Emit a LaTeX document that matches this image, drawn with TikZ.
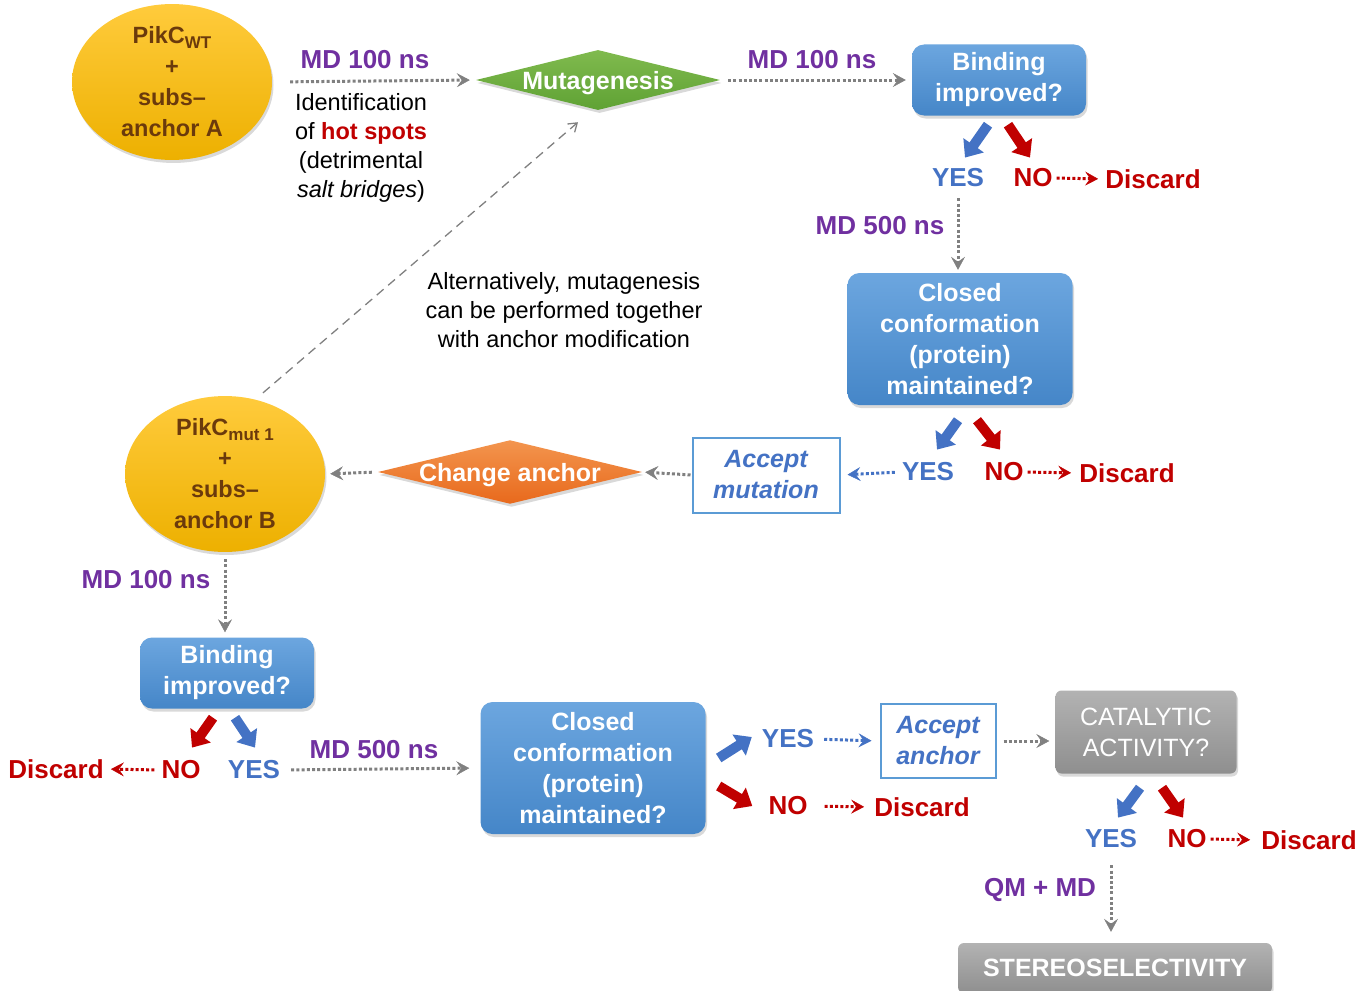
\documentclass[tikz,border=0pt]{standalone}
\usepackage{fontspec}
\setmainfont{Liberation Sans}
\usetikzlibrary{shapes.geometric,arrows.meta,shadows}

\definecolor{mdpurple}{HTML}{7030A0}
\definecolor{yesblue}{HTML}{4472C4}
\definecolor{nored}{HTML}{C00000}
\definecolor{anchorbrown}{HTML}{6B3A0C}
\definecolor{boxblue}{HTML}{5B9BD5}
\definecolor{boxtop}{HTML}{6CA6DF}
\definecolor{boxbottom}{HTML}{4586C8}
\definecolor{goldtop}{HTML}{FFCB3C}
\definecolor{goldbottom}{HTML}{EDB000}
\definecolor{greentop}{HTML}{80BA4E}
\definecolor{greenbottom}{HTML}{5FA234}
\definecolor{orangetop}{HTML}{F3954E}
\definecolor{orangebottom}{HTML}{E8691C}
\definecolor{linegray}{HTML}{808080}

\newcommand{\subtxt}[1]{\raisebox{-5pt}{\fontsize{17}{17}\selectfont #1}}

\tikzset{
  lbl/.style={font=\bfseries\fontsize{26}{30}\selectfont, inner sep=0pt},
  md/.style={lbl, text=mdpurple},
  yes/.style={lbl, text=yesblue},
  no/.style={lbl, text=nored},
  note/.style={font=\fontsize{23.5}{29}\selectfont, align=center, inner sep=0pt},
  shade/.style={drop shadow={opacity=0.3, shadow xshift=1.5pt, shadow yshift=-3pt}},
  cell/.style={ellipse, shade, top color=goldtop, bottom color=goldbottom,
    text=anchorbrown, font=\bfseries\fontsize{23.5}{31}\selectfont, align=center,
    minimum width=200pt, minimum height=140pt, inner sep=0pt},
  flat/.style={diamond, aspect=4, shade, inner sep=0pt, text=white, text depth=0pt,
    font=\bfseries\fontsize{25}{30}\selectfont},
  question/.style={rounded corners=12pt, shade, top color=boxtop, bottom color=boxbottom,
    text=white, font=\bfseries\fontsize{25}{31}\selectfont, align=center, inner sep=0pt},
  accept/.style={draw=boxblue, line width=2pt, fill=white, text=yesblue,
    font=\bfseries\itshape\fontsize{25}{31}\selectfont, align=center, inner sep=0pt},
  assay/.style={rounded corners=6pt, shade, top color=gray!60, bottom color=gray!88,
    text=white, font=\fontsize{25}{31}\selectfont, align=center, inner sep=0pt},
  dotarr/.style={line width=3pt, dash pattern=on 3pt off 2.2pt,
    -{Stealth[length=13pt,width=14pt,inset=5pt,line width=0.5pt]}},
  dotgray/.style={dotarr, linegray},
  dotred/.style={dotarr, nored},
  dotblue/.style={dotarr, yesblue},
  fat/.style={line width=10pt, -{Triangle[length=15pt,width=24pt]}},
  fatyes/.style={fat, yesblue},
  fatno/.style={fat, nored}
}

\begin{document}
\begin{tikzpicture}[x=1pt,y=-1pt]
\useasboundingbox (0,0) rectangle (1359,990);

% cells and steps
\node[cell] (cellA) at (172,82) {PikC\subtxt{WT}\\+\\subs--\\anchor A};
\node[cell] (cellB) at (225,474) {PikC\subtxt{mut 1}\\+\\subs--\\anchor B};

\node[flat, top color=greentop, bottom color=greenbottom,
  minimum width=244pt, minimum height=60pt] (mut) at (598,80) {Mutagenesis};
\node[flat, top color=orangetop, bottom color=orangebottom,
  minimum width=264pt, minimum height=57pt] (chg) at (510,472) {Change anchor};

\node[question, minimum width=174pt, minimum height=71pt] (bindA) at (999,80) {Binding\\improved?};
\node[question, minimum width=225pt, minimum height=132pt] (closedA) at (960,339) {Closed\\conformation\\(protein)\\maintained?};
\node[accept, minimum width=147pt, minimum height=75pt] (accMut) at (766,475) {Accept\\mutation};
\node[question, minimum width=174pt, minimum height=71pt] (bindB) at (227,673) {Binding\\improved?};
\node[question, minimum width=225pt, minimum height=132pt] (closedB) at (593,768) {Closed\\conformation\\(protein)\\maintained?};
\node[accept, minimum width=115pt, minimum height=74pt] (accAnc) at (938,741) {Accept\\anchor};
\node[assay, minimum width=181pt, minimum height=83pt] (cat) at (1146,732) {CATALYTIC\\ACTIVITY?};
\node[assay, font=\bfseries\fontsize{25}{31}\selectfont, minimum width=314pt, minimum height=50pt] (stereo) at (1115,968) {STEREOSELECTIVITY};

% labels
\node[md] (mdA) at (365,60) {MD 100 ns};
\node[md] (mdB) at (812,60) {MD 100 ns};
\node[md] (mdC) at (880,226) {MD 500 ns};
\node[md] (mdD) at (146,580) {MD 100 ns};
\node[md] (mdE) at (374,750) {MD 500 ns};
\node[md] (qm) at (1040,890) {QM + MD};

\node[note] (hot) at (361,148) {Identification\\of {\bfseries\color{nored}hot spots}\\(detrimental\\\emph{salt bridges})};
\node[note] (alt) at (564,310) {Alternatively, mutagenesis\\can be performed together\\with anchor modification};

% answers
\node[yes] (yesA) at (958,178) {YES};
\node[no] (noA) at (1033,178) {NO};
\node[no] (disA) at (1153,179) {Discard};
\node[yes] (yesB) at (928,472) {YES};
\node[no] (noB) at (1004,472) {NO};
\node[no] (disB) at (1127,473) {Discard};
\node[no] (disC) at (56,769) {Discard};
\node[no] (noC) at (181,770) {NO};
\node[yes] (yesC) at (254,770) {YES};
\node[yes] (yesD) at (788,739) {YES};
\node[no] (noD) at (788,806) {NO};
\node[no] (disD) at (922,807) {Discard};
\node[yes] (yesE) at (1111,839) {YES};
\node[no] (noE) at (1187,839) {NO};
\node[no] (disE) at (1309,840) {Discard};

% first round
\draw[dotgray, shorten <=18pt, shorten >=6pt] (cellA.east) -- (mut.west);
\draw[dotgray, shorten <=8pt, shorten >=6pt] (mut.east) -- (bindA.west);
\draw[fatyes] ([xshift=-11pt,yshift=-9pt]bindA.south) -- ([xshift=7pt,yshift=11pt]yesA.north);
\draw[fatno] ([xshift=9pt,yshift=-9pt]bindA.south) -- ([xshift=-3pt,yshift=11pt]noA.north);
\draw[dotred, shorten <=4pt, shorten >=7pt] (noA.east) -- (disA.west);
\draw[dotgray, shorten <=11pt, shorten >=3pt] (yesA.south) -- (yesA.south |- closedA.north);
\draw[fatyes] ([xshift=-2pt,yshift=-15pt]closedA.south) -- ([xshift=9pt,yshift=13pt]yesB.north);
\draw[fatno] ([xshift=17pt,yshift=-15pt]closedA.south) -- ([xshift=-4pt,yshift=13pt]noB.north);
\draw[dotred, shorten <=4pt, shorten >=8pt] (noB.east) -- (disB.west);
\draw[dotblue, shorten <=7pt, shorten >=7pt] (yesB.west) -- (accMut.east);
\draw[dotgray, shorten <=1pt, shorten >=3pt] (accMut.west) -- (chg.east);
\draw[dotgray, shorten <=6pt, shorten >=5pt] (chg.west) -- (cellB.east);
\draw[linegray, line width=1.3pt, dash pattern=on 9pt off 6pt, -{Straight Barb[length=8pt,width=11pt]}]
  ([xshift=38pt,yshift=3pt]cellB.north) -- ([xshift=-20pt,yshift=-12pt]mut.south);

% second round
\draw[dotgray, shorten <=7pt, shorten >=5pt] (cellB.south) -- (cellB.south |- bindB.north);
\draw[fatno] ([xshift=-14pt,yshift=-9pt]bindB.south) -- ([xshift=11pt,yshift=13pt]noC.north);
\draw[fatyes] ([xshift=8pt,yshift=-9pt]bindB.south) -- ([xshift=1pt,yshift=13pt]yesC.north);
\draw[dotred, shorten <=7pt, shorten >=7pt] (noC.west) -- (disC.east);
\draw[dotgray, shorten <=11pt, shorten >=11pt] (yesC.east) -- (closedB.west);
\draw[fatyes] ([xshift=13pt,yshift=10pt]closedB.east) -- ([xshift=-10pt,yshift=2pt]yesD.west);
\draw[fatno] ([xshift=13pt,yshift=-18pt]closedB.east) -- ([xshift=-16pt]noD.west);
\draw[dotblue, shorten <=10pt, shorten >=8pt] (yesD.east) -- (accAnc.west);
\draw[dotred, shorten <=17pt, shorten >=10pt] (noD.east) -- (disD.west);
\draw[dotgray, shorten <=7pt, shorten >=6pt] (accAnc.east) -- (accAnc.east -| cat.west);
\draw[fatyes] ([xshift=-6pt,yshift=-14pt]cat.south) -- ([xshift=7pt,yshift=12pt]yesE.north);
\draw[fatno] ([xshift=16pt,yshift=-14pt]cat.south) -- ([xshift=-4pt,yshift=12pt]noE.north);
\draw[dotred, shorten <=4pt, shorten >=11pt] (noE.east) -- (disE.west);
\draw[dotgray, shorten <=17pt, shorten >=11pt] (yesE.south) -- (yesE.south |- stereo.north);

\end{tikzpicture}
\end{document}
